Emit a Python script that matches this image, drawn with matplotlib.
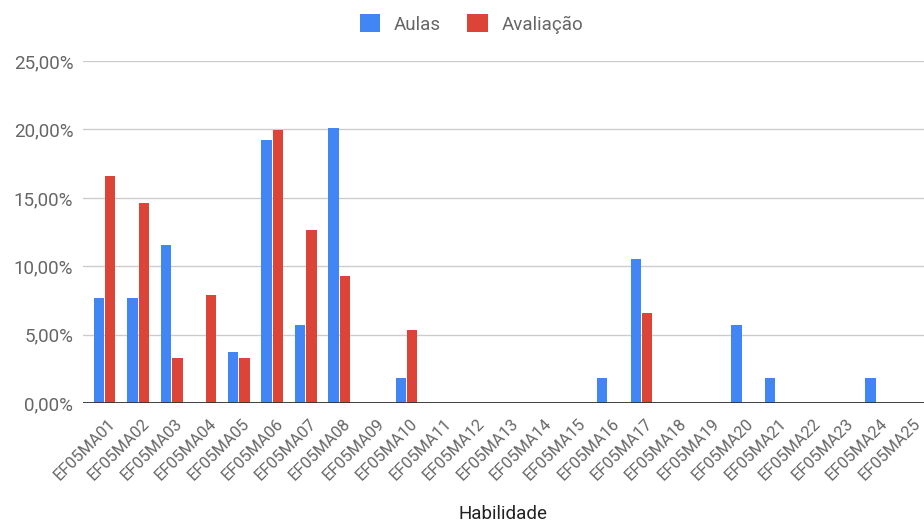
#!/usr/bin/env python3
"""Aulas x Avaliação por habilidade (EF05MA01..EF05MA25)."""

import matplotlib
matplotlib.use("Agg")
import matplotlib.pyplot as plt
from matplotlib.ticker import FuncFormatter
from matplotlib.patches import Patch
import numpy as np

BLUE = "#4285F4"
RED = "#DB4437"
GRID = "#CCCCCC"
TEXT = "#666666"

habilidades = [f"EF05MA{i:02d}" for i in range(1, 26)]
aulas = [7.69, 7.69, 11.54, 0, 3.77, 19.2, 5.7, 20.1, 0, 1.85,
         0, 0, 0, 0, 0, 1.85, 10.54, 0, 0, 5.7,
         1.85, 0, 0, 1.85, 0]
avaliacao = [16.6, 14.6, 3.31, 7.94, 3.31, 19.99, 12.68, 9.3, 0, 5.36,
             0, 0, 0, 0, 0, 0, 6.57, 0, 0, 0,
             0, 0, 0, 0, 0]
yticks = [0, 5, 10, 15, 20, 25]


def main():
    plt.rcParams["font.family"] = ["Roboto", "DejaVu Sans"]
    fig = plt.figure(figsize=(9.24, 5.25), dpi=100)
    W, H = 924, 525
    ax = fig.add_axes([83 / W, (H - 403.3) / H, (924 - 83) / W, (403.3 - 61) / H])

    x = np.arange(len(habilidades))
    w = 0.31
    ax.bar(x - 0.17, aulas, width=w, color=BLUE, zorder=3)
    ax.bar(x + 0.17, avaliacao, width=w, color=RED, zorder=3)

    ax.set_xlim(-0.64, 24.42)
    ax.set_ylim(0, 25)
    ax.set_yticks(yticks)
    ax.yaxis.set_major_formatter(FuncFormatter(lambda v, _: f"{v:.2f}%".replace(".", ",")))
    ax.yaxis.grid(True, color=GRID, linewidth=1.0)
    ax.set_axisbelow(True)
    ax.axhline(0, color="#333333", linewidth=1.3, zorder=4)
    for s in ax.spines.values():
        s.set_visible(False)
    ax.tick_params(axis="y", length=0, pad=7, labelsize=13.5, labelcolor=TEXT)
    ax.tick_params(axis="x", length=0, pad=9, labelsize=11.8, labelcolor=TEXT)

    ax.set_xticks(x + 0.1)
    ax.set_xticklabels(habilidades, rotation=45, ha="right", rotation_mode="anchor")

    ax.set_xlabel("Habilidade", fontsize=13.5, color="#222222", va="center")
    ax.xaxis.set_label_coords(0.5, -0.322)

    handles = [Patch(facecolor=BLUE, label="Aulas"), Patch(facecolor=RED, label="Avaliação")]
    leg = fig.legend(handles=handles, loc="center", bbox_to_anchor=(0.51, 0.954), ncol=2,
                     frameon=False, fontsize=13.5, handlelength=1.1, handleheight=1.1,
                     handletextpad=0.7, columnspacing=1.45)
    for t in leg.get_texts():
        t.set_color(TEXT)

    fig.savefig("out.png", dpi=100, facecolor="white")
    plt.close(fig)


if __name__ == "__main__":
    main()
